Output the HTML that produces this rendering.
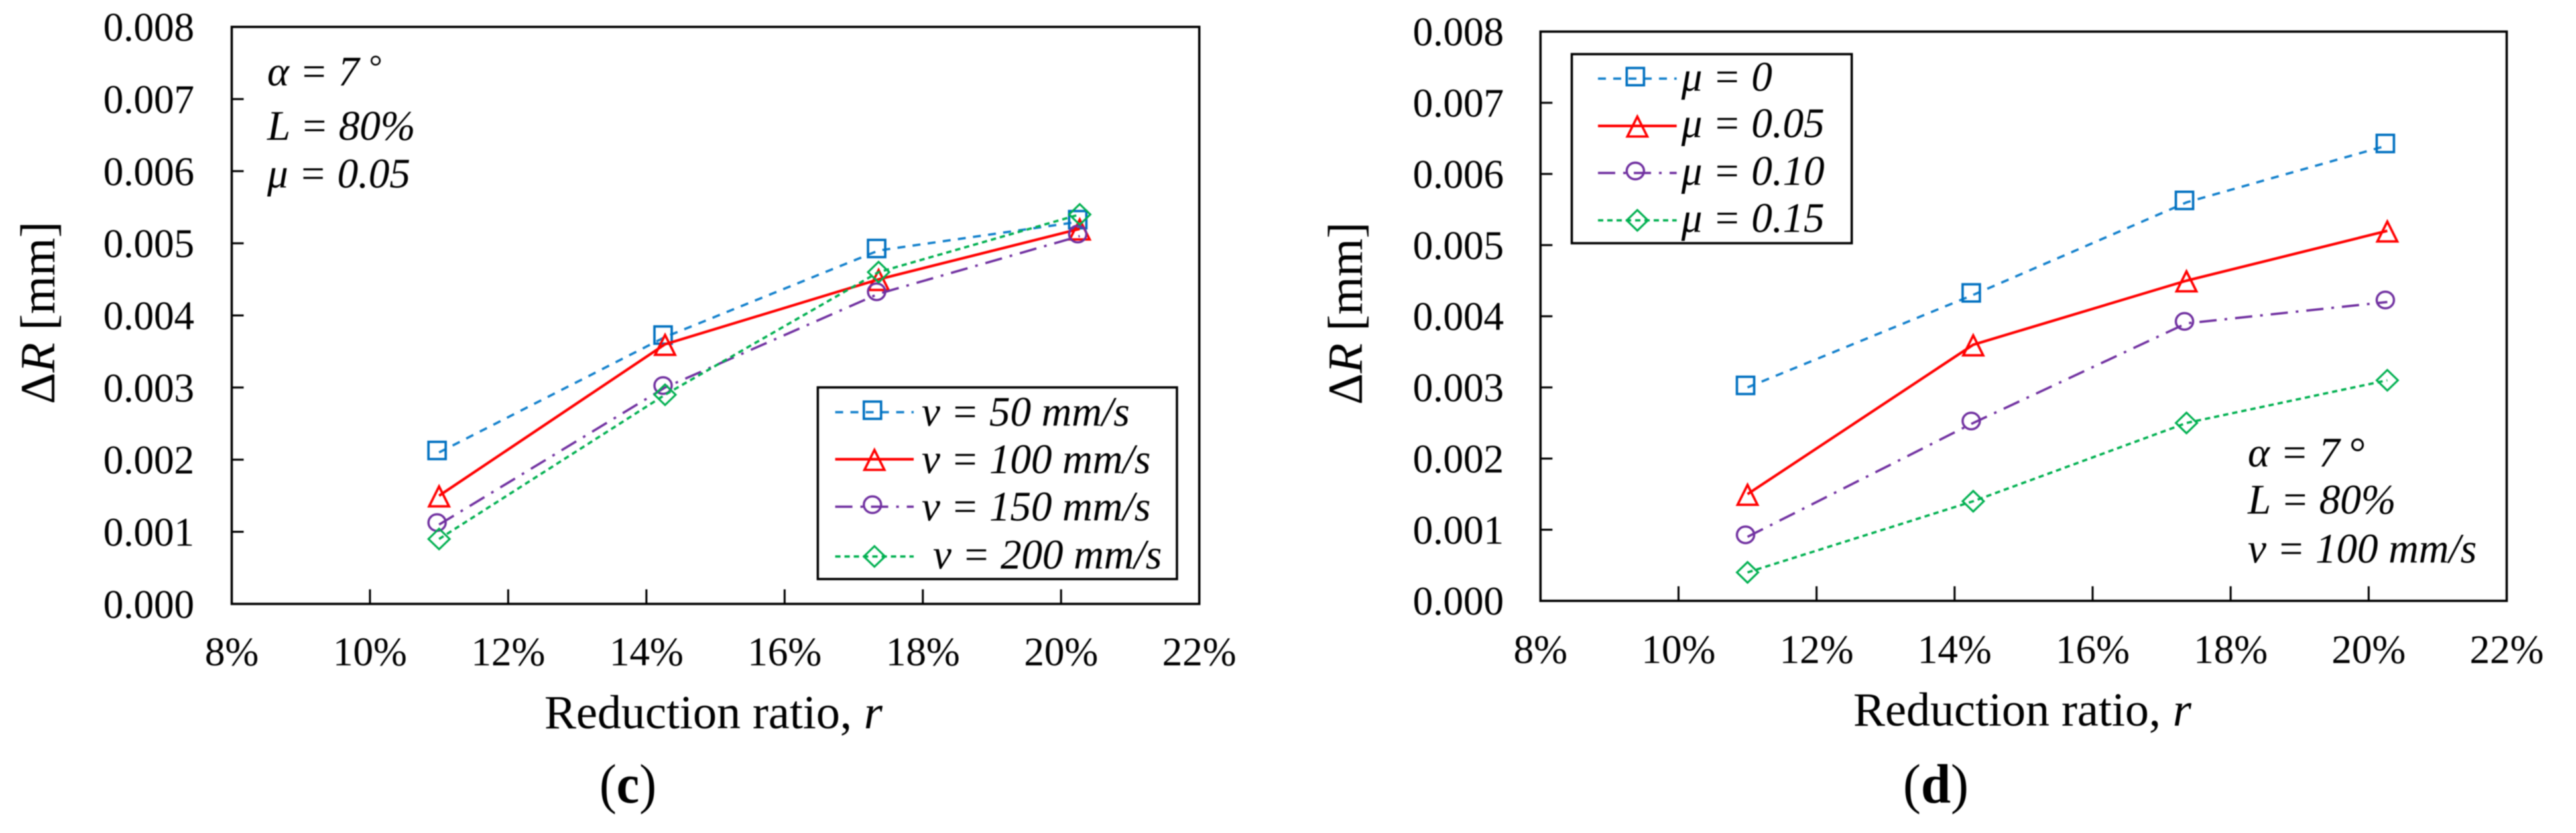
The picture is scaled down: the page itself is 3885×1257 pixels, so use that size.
<!DOCTYPE html>
<html>
<head>
<meta charset="utf-8">
<title>Reduction ratio charts</title>
<style>
html,body{margin:0;padding:0;background:#fff;}
svg{display:block;filter:blur(0.8px);}
text{font-family:"Liberation Serif",serif;fill:#000;}
.tick{font-size:61px;}
.title{font-size:72px;}
.ytitle{font-size:74px;}
.note{font-size:63px;font-style:italic;}
.cap{font-size:84px;}
</style>
</head>
<body>
<svg id="figure" xmlns="http://www.w3.org/2000/svg" width="3885" height="1257" viewBox="0 0 3885 1257">
<rect width="3885" height="1257" fill="#fff"/>
<g id="panel-c"></g>
<g id="panel-d"></g>

<!-- Panel c static text -->
<g>
<text class="title" x="821" y="1099">Reduction ratio, <tspan font-style="italic">r</tspan></text>
<text class="ytitle" transform="translate(82,472) rotate(-90)" text-anchor="middle">Δ<tspan font-style="italic">R</tspan> [mm]</text>
<text class="note" x="403" y="129">α = 7</text>
<text x="555" y="117" font-size="50" font-style="italic">°</text>
<text class="note" x="403" y="211">L = 80%</text>
<text class="note" x="403" y="283">μ = 0.05</text>
<text class="cap" x="904" y="1211" textLength="86" lengthAdjust="spacingAndGlyphs">(<tspan font-weight="bold">c</tspan>)</text>
</g>

<!-- Panel d static text -->
<g>
<text class="title" x="2795" y="1095">Reduction ratio, <tspan font-style="italic">r</tspan></text>
<text class="ytitle" transform="translate(2054,473) rotate(-90)" text-anchor="middle">Δ<tspan font-style="italic">R</tspan> [mm]</text>
<text class="note" x="3390" y="704">α = 7</text>
<text class="note" x="3541" y="704">°</text>
<text class="note" x="3390" y="775">L = 80%</text>
<text class="note" x="3390" y="849">v = 100 mm/s</text>
<text class="cap" x="2870" y="1211" textLength="99" lengthAdjust="spacingAndGlyphs">(<tspan font-weight="bold">d</tspan>)</text>
</g>
</svg>

<script>
// Chart data
var reductionRatio = [11.0, 14.27, 17.36, 20.27];
var yTickValues = [0, 0.001, 0.002, 0.003, 0.004, 0.005, 0.006, 0.007, 0.008];
var yTickLabels = ['0.000', '0.001', '0.002', '0.003', '0.004', '0.005', '0.006', '0.007', '0.008'];
var xTickValues = [8, 10, 12, 14, 16, 18, 20, 22];
var xTickLabels = ['8%', '10%', '12%', '14%', '16%', '18%', '20%', '22%'];

var speed50 = [0.0021, 0.0037, 0.0049, 0.0053];
var speed100 = [0.0015, 0.0036, 0.0045, 0.0052];
var speed150 = [0.0011, 0.0030, 0.0043, 0.0051];
var speed200 = [0.0009, 0.0029, 0.0046, 0.0054];
var speedLabels = ['v = 50 mm/s', 'v = 100 mm/s', 'v = 150 mm/s', 'v = 200 mm/s'];

var mu000 = [0.0030, 0.0043, 0.0056, 0.0064];
var mu005 = [0.0015, 0.0036, 0.0045, 0.0052];
var mu010 = [0.0009, 0.0025, 0.0039, 0.0042];
var mu015 = [0.0004, 0.0014, 0.0025, 0.0031];
var muLabels = ['μ = 0', 'μ = 0.05', 'μ = 0.10', 'μ = 0.15'];

var NS = 'http://www.w3.org/2000/svg';
var STYLES = [
  {kind: 'square', color: '#0070c0', line: '#1280cc', dash: '12 11', width: 3.5},
  {kind: 'triangle', color: '#ff0000', line: '#ff0000', dash: 'none', width: 4},
  {kind: 'circle', color: '#7030a0', line: '#7030a0', dash: '26 12 4 12', width: 3.5},
  {kind: 'diamond', color: '#00b050', line: '#00b050', dash: '8 6', width: 3.5}
];

function make(parent, tag, attrs) {
  var el = document.createElementNS(NS, tag);
  for (var k in attrs) el.setAttribute(k, attrs[k]);
  parent.appendChild(el);
  return el;
}

function drawMarker(parent, kind, color, cx, cy) {
  var el;
  if (kind === 'square') {
    el = make(parent, 'rect', {x: cx - 16, y: cy - 16, width: 26, height: 26, fill: 'none', stroke: color, 'stroke-width': 3.6});
    
  } else if (kind === 'triangle') {
    el = make(parent, 'polygon', {points: (cx) + ',' + (cy - 14) + ' ' + (cx + 15) + ',' + (cy + 16) + ' ' + (cx - 15) + ',' + (cy + 16), fill: 'none', stroke: color, 'stroke-width': 3.6});
    
  } else if (kind === 'circle') {
    el = make(parent, 'ellipse', {cx: cx - 3, cy: cy - 3, rx: 13, ry: 12.5, fill: 'none', stroke: color, 'stroke-width': 3.4});
    
  } else {
    el = make(parent, 'polygon', {points: cx + ',' + (cy - 15.5) + ' ' + (cx + 16) + ',' + cy + ' ' + cx + ',' + (cy + 15.5) + ' ' + (cx - 16) + ',' + cy, fill: 'none', stroke: color, 'stroke-width': 3});
    
  }
  
}

function drawPanel(root, box, seriesList, seriesNames, legend, legendLabels) {
  function xScale(v) { return box.left + (v - 8) / 14 * (box.right - box.left); }
  function yScale(v) { return box.bottom - v / 0.008 * (box.bottom - box.top); }

  var frame = make(root, 'rect', {x: box.left, y: box.top, width: box.right - box.left, height: box.bottom - box.top, fill: 'none', stroke: '#000', 'stroke-width': 3.5});
  
  

  yTickValues.forEach(function (v, i) {
    var y = yScale(v);
    if (i > 0 && i < yTickValues.length - 1) {
      var tick = make(root, 'line', {x1: box.left, x2: box.left + 18, y1: y, y2: y, stroke: '#000', 'stroke-width': 3});
      
      
    }
    var label = make(root, 'text', {x: box.labelRight, y: y + 21, 'text-anchor': 'end', 'class': 'tick'});
    label.textContent = yTickLabels[i];
    
    
  });

  xTickValues.forEach(function (v, i) {
    var x = xScale(v);
    if (i > 0 && i < xTickValues.length - 1) {
      var tick = make(root, 'line', {x1: x, x2: x, y1: box.bottom, y2: box.bottom - 22, stroke: '#000', 'stroke-width': 3});
      
      
    }
    var label = make(root, 'text', {x: x, y: box.labelBase, 'text-anchor': 'middle', 'class': 'tick'});
    label.textContent = xTickLabels[i];
    
    
  });

  seriesList.forEach(function (values, s) {
    var st = STYLES[s];
    var group = make(root, 'g', {});
    
    
    var pts = values.map(function (v, i) { return xScale(reductionRatio[i]) + ',' + yScale(v); }).join(' ');
    var line = make(group, 'polyline', {points: pts, fill: 'none', stroke: st.line, 'stroke-width': st.width, 'stroke-dasharray': st.dash});
    
    
    values.forEach(function (v, i) {
      drawMarker(group, st.kind, st.color, xScale(reductionRatio[i]), yScale(v));
    });
  });

  var lg = make(root, 'g', {});
  
  
  var bg = make(lg, 'rect', {x: legend.left, y: legend.top, width: legend.right - legend.left, height: legend.bottom - legend.top, fill: '#fff', stroke: '#000', 'stroke-width': 3.5});
  
  
  legendLabels.forEach(function (txt, i) {
    var st = STYLES[i];
    var row = make(lg, 'g', {});
    
    
    var sample = make(row, 'line', {x1: legend.lineLeft, x2: legend.lineRight, y1: legend.rows[i], y2: legend.rows[i], stroke: st.line, 'stroke-width': st.width, 'stroke-dasharray': st.dash});
    
    
    drawMarker(row, st.kind, st.color, (legend.lineLeft + legend.lineRight) / 2, legend.rows[i]);
    var t = make(row, 'text', {x: legend.textX[i], y: legend.base[i], 'class': 'note'});
    t.textContent = txt;
    
    
  });
}

drawPanel(document.getElementById('panel-c'),
  {left: 349.5, right: 1808.7, top: 40.6, bottom: 911.3, labelRight: 293, labelBase: 1004},
  [speed50, speed100, speed150, speed200],
  ['series-v-50', 'series-v-100', 'series-v-150', 'series-v-200'],
  {left: 1233.4, right: 1775, top: 584.6, bottom: 873.8, lineLeft: 1259.6, lineRight: 1378,
   rows: [622, 693, 764.6, 839.7], base: [642.6, 714, 785.5, 858], textX: [1390, 1390, 1390, 1407]},
  speedLabels);

drawPanel(document.getElementById('panel-d'),
  {left: 2323.3, right: 3780.5, top: 47.7, bottom: 906.7, labelRight: 2268, labelBase: 1000.4},
  [mu000, mu005, mu010, mu015],
  ['series-mu-0', 'series-mu-0-05', 'series-mu-0-10', 'series-mu-0-15'],
  {left: 2370.5, right: 2792.7, top: 81.7, bottom: 367, lineLeft: 2410, lineRight: 2528.7,
   rows: [118.6, 190, 261, 332.5], base: [137, 207, 279, 350], textX: [2535.7, 2535.7, 2535.7, 2535.7]},
  muLabels);
</script>
</body>
</html>
